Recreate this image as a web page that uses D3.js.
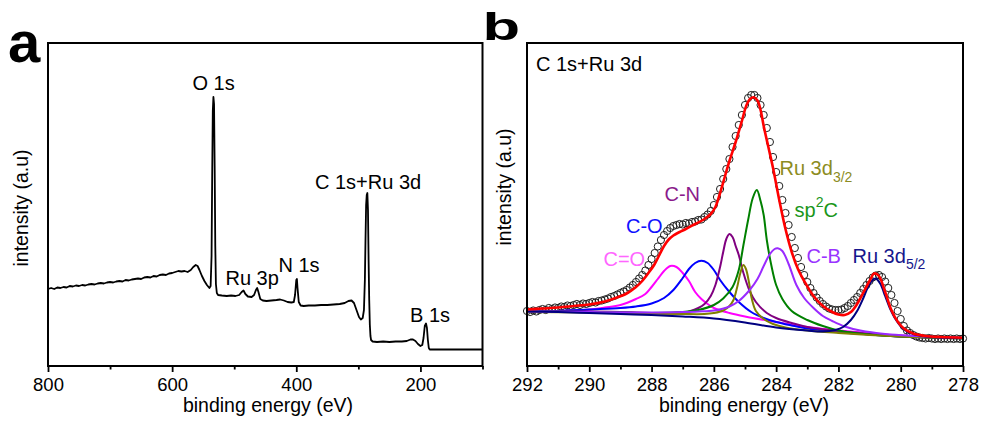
<!DOCTYPE html>
<html>
<head>
<meta charset="utf-8">
<script src="https://cdn.jsdelivr.net/npm/d3@7"></script>
<style>
  body { margin: 0; background: #fff; }
  svg { display: block; font-family: "Liberation Sans", Arial, sans-serif; }
</style>
</head>
<body>
<svg id="chart" width="981" height="422"></svg>
<script>
// ---- panel a: survey spectrum, [binding energy (eV), intensity (a.u.)] ----
var surveyPoints = [
  [800,77],[795,78],[790,77],[785,78.5],[780,78],[775,79],[770,78.5],[765,80],[760,79.5],[755,80.5],
  [750,80],[745,81],[740,80.5],[735,81.5],[730,82],[725,81.5],[720,82.5],[715,83],[710,82.5],[705,83.5],
  [700,84],[695,83.5],[690,84.5],[685,85],[680,84.5],[675,86],[670,85.5],[665,86.5],[660,87],[655,87.5],
  [650,87],[645,88.5],[640,89],[635,88.5],[630,90],[625,89.5],[620,91],[615,91.5],[610,91],[605,92.5],
  [600,93],[595,94],[590,95],[585,94.5],[580,95],[575,94],[570,96],[566,99],[562,101],[559,100],
  [556,96],[552,90],[548,85],[544,81],[540,78],[538,80],[536.5,110],[535.5,190],[534.5,255],[533.5,269],
  [532.5,262],[531.5,200],[530.5,120],[529.5,82],[528,73],[526,71],[520,70.5],[512,70],[505,70.5],[498,70],
  [492,71],[488,74],[485,75.5],[482,72],[478,69.5],[472,69],[468,71],[465,76],[463,78],[461,74],
  [458,67],[454,65.5],[448,65],[440,65.5],[432,66],[426,66.5],[420,65.5],[414,64],[408,63.5],[404,64],
  [402,71],[400,86],[399,87],[398,78],[396,64],[393,60.5],[388,60],[380,60.5],[370,60.5],[360,61],
  [350,61],[340,61.5],[330,62],[322,63],[316,65],[311,65.5],[307,63],[303,56],[299,49],[296,46.5],
  [293,48],[291,56],[289.5,86],[288.5,126],[287.5,161],[286.5,171],[285.5,173],[284.5,156],[283.5,106],[282.5,66],
  [281.5,41],[280.5,30],[279.5,26],[277,24.5],[270,24],[260,24.5],[250,24],[240,24.5],[230,24.5],[222,25],
  [216,26.5],[212,26.5],[208,25],[204,22],[200,20],[197,21],[195,28],[193,40],[191,42.5],[189.5,38],
  [188,26],[186.5,18],[185,16.5],[180,16.5],[170,16.5],[160,16.5],[150,16.5],[140,16.5],[130,16.5],[120,16.5],
  [110,16.5],[100,16.5]
];
var surveyPeakNames = ["O 1s", "Ru 3p", "N 1s", "C 1s+Ru 3d", "B 1s"];
var surveyMajorTicks = [800, 600, 400, 200];
var surveyMinorTicks = [700, 500, 300, 100];

// ---- panel b: C 1s + Ru 3d high resolution ----
var scanStart = 292, scanStep = 0.1;
var measured = [
  55, 54, 55.5, 54.5, 56, 57, 56, 58, 57, 58.5,
  58, 59.5, 59, 60.5, 60, 61, 62, 61, 62.5, 62,
  63, 64, 63.5, 65, 65.5, 66.5, 67.5, 69, 70, 71.5,
  73, 74.5, 76, 78.5, 81, 84, 87.5, 91, 95.5, 101,
  107, 113, 119.5, 126, 131, 135, 138, 140, 141, 142,
  141.5, 143, 142.5, 144, 144.5, 146, 146.5, 149, 151.5, 155,
  161, 169, 177, 187, 197, 207, 219, 230, 241, 251,
  261, 268, 271, 271, 268, 261, 251, 238, 224, 209,
  194, 180, 166, 153, 141, 129, 118, 108, 99, 91,
  84, 78, 73, 68.5, 65, 62, 59.5, 57.5, 56.5, 56,
  56, 56.5, 58, 60, 63, 66, 69, 73, 77, 81,
  85, 88.5, 90.5, 91, 89, 84.5, 78, 71, 63, 55,
  47, 40, 35.5, 33, 31, 29.5, 28.5, 28, 27.5, 28,
  27.5, 27, 27.5, 27, 27.5, 27, 27.5, 27, 27.5, 27,
  27.5
];

var fitEnvelope = [
  [292,56.5],[291.5,57.5],[291,58.5],[290.5,60],[290,61.5],[289.5,64.5],[289.2,67.5],[288.8,72.5],[288.5,79],[288.3,85],
  [288.1,93],[287.9,102],[287.75,111],[287.6,120],[287.45,126.5],[287.3,130.5],[287.1,134],[286.9,137],[286.6,142],[286.3,147],
  [286.1,152],[285.95,159],[285.8,173],[285.65,189],[285.5,205],[285.3,224],[285.1,245],[284.95,261],[284.82,267.5],[284.72,268.7],
  [284.6,265.5],[284.5,256],[284.4,240],[284.25,219],[284.1,198],[283.9,166],[283.7,137],[283.5,114],[283.3,97],[283.1,85],
  [282.8,70],[282.5,60],[282.2,54],[282,51.5],[281.8,51],[281.6,54],[281.4,62],[281.2,73.5],[281,85],[280.85,92.5],
  [280.7,90],[280.5,74],[280.3,56],[280.1,44.5],[279.9,37.5],[279.6,32.5],[279.2,30],[278.7,29],[278,28.3]
];
var compCeqO = [
  [292,54.5],[291,55],[290,56.5],[289.5,58.5],[289,61],[288.5,67],[288.2,72],[288,79],[287.8,87],[287.6,95],
  [287.4,100],[287.2,99],[287,93],[286.8,85],[286.6,74],[286.4,67],[286.2,62],[286,58],[285.5,53],[285,49.5],
  [284,44],[283,39],[282,35.5],[281,33],[280,30.5],[279,29],[278,28]
];
var compCO = [
  [292,54.5],[291,55],[290,56.5],[289,58],[288.5,59.5],[288,62.5],[287.6,68],[287.3,76],[287,88],[286.8,97],
  [286.6,103],[286.4,105.3],[286.2,103],[286,96],[285.8,86],[285.5,74],[285.2,64],[284.8,54],[284.4,48],[284,44],
  [283.5,40.5],[283,37.5],[282,34],[281,31.5],[280,29.5],[279,28.5],[278,28]
];
var compCN = [
  [292,54.5],[290,54.5],[289,54],[288,53],[287.5,52.5],[287,53],[286.8,54.5],[286.5,58],[286.3,62],[286.1,70],
  [285.95,81],[285.8,99],[285.7,114],[285.6,127],[285.5,132],[285.4,129],[285.3,120],[285.2,111],[285.05,93],[284.85,75],
  [284.65,64],[284.3,53],[284,48],[283.5,43],[283,39],[282,35],[281,32],[280,29.5],[279,28.5],[278,28]
];
var compSp2C = [
  [292,54.5],[290,54],[289,53.5],[288,53],[287,54],[286.5,56],[286,61],[285.7,67.5],[285.4,79],[285.2,96],
  [285.05,121],[284.9,146],[284.75,168],[284.62,176],[284.5,165],[284.4,151],[284.3,126],[284.15,100],[284,81],[283.8,67],
  [283.5,55],[283,46],[282.5,40],[282,35.5],[281.5,33],[281,31.5],[280,29.5],[279,28.5],[278,28]
];
var compRu3d32 = [
  [292,54],[290,53.5],[289,53],[288,52.5],[287,52],[286.3,52],[286,53],[285.7,55.5],[285.5,60],[285.37,66],
  [285.25,79],[285.15,93],[285.05,101],[284.97,97],[284.88,85],[284.78,67],[284.65,55],[284.4,47],[284.1,42],[283.7,38.5],
  [283,35.5],[282,33],[281,31],[280,29.5],[279,28.5],[278,27.5]
];
var compCB = [
  [292,54.5],[290,54],[288,53.5],[287,54],[286.5,54.5],[286,55.5],[285.5,59.5],[285.2,65],[284.85,76],[284.6,87],
  [284.4,100],[284.2,112],[284.05,117],[283.95,117.7],[283.8,115],[283.6,102],[283.35,81],[283.1,68],[282.8,58],[282.5,50],
  [282.2,45],[281.8,39.5],[281.3,35.5],[280.5,32],[279.5,30],[278,28]
];
var compRu3d52 = [
  [292,54.5],[291,54],[290,53],[289,52],[288,51],[287,49.5],[286,47.5],[285,43.5],[284,38.5],[283,35.5],
  [282.5,34.5],[282.1,36],[281.85,39],[281.6,46],[281.4,55],[281.2,68],[281.05,79],[280.9,86],[280.8,87.5],[280.65,82],
  [280.5,70],[280.35,58],[280.15,46],[279.9,36.5],[279.6,32],[279.2,29.5],[278.6,28.2],[278,27.7]
];
var hrMajorTicks = [292, 290, 288, 286, 284, 282, 280, 278];
var hrMinorTicks = [291, 289, 287, 285, 283, 281, 279];

// ---- layout ----
var svg = d3.select("#chart");
var top0 = 43, bottom0 = 366;

var xA = d3.scaleLinear().domain([800, 100]).range([48, 482.5]);
var yA = d3.scaleLinear().domain([0, 323]).range([bottom0, top0]);
var xB = d3.scaleLinear().domain([292, 278]).range([527, 963]);
var yB = d3.scaleLinear().domain([0, 323]).range([bottom0, top0]);

function bottomAxis(x, major, minor) {
    var g = svg.append("g").attr("transform", "translate(0," + bottom0 + ")");
    g.append("g")
        .call(d3.axisBottom(x).tickValues(major).tickSize(6).tickPadding(5.5).tickFormat(d3.format("d")))
        .call(function (a) { a.select(".domain").remove(); })
        .attr("font-size", 18.5).attr("font-family", null);
    g.append("g")
        .call(d3.axisBottom(x).tickValues(minor).tickSize(3.5).tickFormat(""))
        .call(function (a) { a.select(".domain").remove(); });
    g.selectAll(".tick line").attr("stroke", "#000").attr("stroke-width", 1.8);
    g.selectAll(".tick text").attr("fill", "#000");
}

function frame(x) {
    var r = x.range();
    svg.append("rect")
        .attr("x", r[0]).attr("y", top0)
        .attr("width", r[1] - r[0]).attr("height", bottom0 - top0)
        .attr("fill", "none").attr("stroke", "#000").attr("stroke-width", 2);
}

function axisTitles(cx, titleY, yTitleX, yTitleY) {
    svg.append("text").attr("x", cx).attr("y", titleY)
        .attr("text-anchor", "middle").attr("font-size", 19.5)
        .text("binding energy (eV)");
    svg.append("text")
        .attr("transform", "translate(" + yTitleX + "," + yTitleY + ") rotate(-90)")
        .attr("text-anchor", "middle").attr("font-size", 19.5)
        .text("intensity (a.u)");
}

// label with sub/superscript pieces: [text, shift]
function richLabel(x, y, color, pieces) {
    var t = svg.append("text").attr("x", x).attr("y", y)
        .attr("fill", color).attr("font-size", 20);
    var cur = 0;
    pieces.forEach(function (p) {
        var s = t.append("tspan").text(p[0]);
        var shift = p[1] || 0;
        if (shift !== cur) { s.attr("dy", shift - cur); cur = shift; }
        if (p[1]) s.attr("font-size", 14);
    });
}

// ---------- panel a ----------
var lineA = d3.line().x(function (d) { return xA(d[0]); }).y(function (d) { return yA(d[1]); });
svg.append("path").datum(surveyPoints)
    .attr("d", lineA).attr("fill", "none")
    .attr("stroke", "#000").attr("stroke-width", 1.8).attr("stroke-linejoin", "round");

frame(xA);
bottomAxis(xA, surveyMajorTicks, surveyMinorTicks);
axisTitles(268, 411.5, 27.5, 208);

var surveyLabelPos = [[192.5, 90], [225.5, 285], [278.5, 271.7], [315, 189.3], [410, 321.7]];
surveyPeakNames.forEach(function (name, i) {
    svg.append("text").attr("x", surveyLabelPos[i][0]).attr("y", surveyLabelPos[i][1])
        .attr("font-size", 20).text(name);
});

svg.append("text").attr("x", 8).attr("y", 62)
    .attr("font-size", 58).attr("font-weight", "bold").text("a");

// ---------- panel b ----------
var measuredPts = measured.map(function (v, i) { return [scanStart - i * scanStep, v]; });

svg.append("g").selectAll("circle").data(measuredPts).enter().append("circle")
    .attr("cx", function (d) { return xB(d[0]); })
    .attr("cy", function (d) { return yB(d[1]); })
    .attr("r", 3.6).attr("fill", "none")
    .attr("stroke", "#222").attr("stroke-width", 1);

var lineB = d3.line()
    .x(function (d) { return xB(d[0]); })
    .y(function (d) { return yB(d[1]); })
    .curve(d3.curveCatmullRom.alpha(0.5));

var components = [
    [compCeqO, "#ff00ff"],
    [compCO, "#0000ff"],
    [compCN, "#800080"],
    [compSp2C, "#008000"],
    [compRu3d32, "#808000"],
    [compCB, "#9a2aff"],
    [compRu3d52, "#000080"]
];
components.forEach(function (c) {
    svg.append("path").datum(c[0])
        .attr("d", lineB).attr("fill", "none")
        .attr("stroke", c[1]).attr("stroke-width", 2);
});
svg.append("path").datum(fitEnvelope)
    .attr("d", lineB).attr("fill", "none")
    .attr("stroke", "#ff0000").attr("stroke-width", 2.6);

frame(xB);
bottomAxis(xB, hrMajorTicks, hrMinorTicks);
axisTitles(744, 412, 511, 187);

svg.append("text").attr("x", 536).attr("y", 70.7).attr("font-size", 20).text("C 1s+Ru 3d");
richLabel(664.5, 200.7, "#8b1a8b", [["C-N"]]);
richLabel(626, 232.7, "#1010ff", [["C-O"]]);
richLabel(603.5, 265.7, "#ff66ff", [["C=O"]]);
richLabel(779.5, 175, "#8c8c22", [["Ru 3d"], ["3/2", 6.5]]);
richLabel(794.5, 216.7, "#1a961a", [["sp"], ["2", -10], ["C", 0]]);
richLabel(806.5, 263.3, "#9933ff", [["C-B"]]);
richLabel(852.5, 262.7, "#16168c", [["Ru 3d"], ["5/2", 6]]);

svg.append("g").attr("transform", "translate(482.5,39.5) scale(1.62,1)")
    .append("text").attr("font-size", 38).attr("font-weight", "bold").text("b");
</script>
</body>
</html>
